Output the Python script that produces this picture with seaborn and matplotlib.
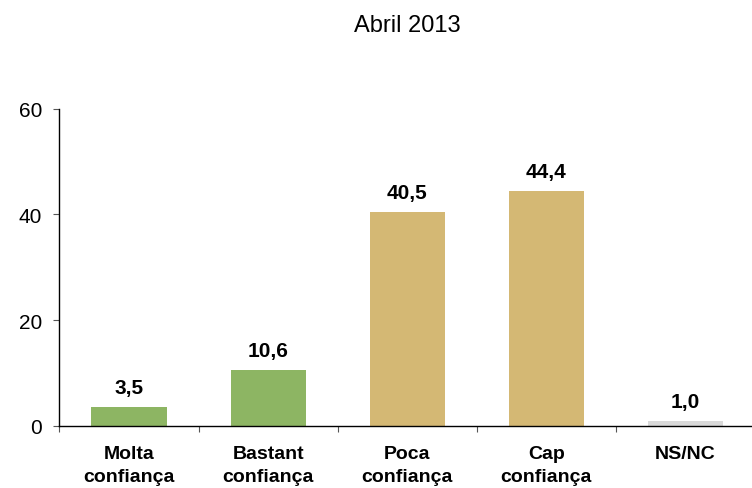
import matplotlib
matplotlib.use("Agg")
import matplotlib.pyplot as plt
import seaborn as sns
import pandas as pd
import numpy as np

categories = ["Molta\nconfiança", "Bastant\nconfiança", "Poca\nconfiança", "Cap\nconfiança", "NS/NC"]
values = [3.5, 10.6, 40.5, 44.4, 1.0]
labels = ["3,5", "10,6", "40,5", "44,4", "1,0"]
colors = ["#8DB563", "#8DB563", "#D4B874", "#D4B874", "#D9D9D9"]
title = "Abril 2013"
yticks = [0, 20, 40, 60]

sns.set_theme(style="white")
plt.rcParams["font.family"] = ["Liberation Sans", "DejaVu Sans"]
plt.rcParams["text.color"] = "black"
plt.rcParams["xtick.color"] = "black"
plt.rcParams["ytick.color"] = "black"
plt.rcParams["xtick.labelcolor"] = "black"
plt.rcParams["ytick.labelcolor"] = "black"

df = pd.DataFrame({"cat": categories, "val": values})

fig = plt.figure(figsize=(7.52, 4.89), dpi=100)
ax = fig.add_axes([0.079, 0.127, 0.925, 0.649])
sns.barplot(data=df, x="cat", y="val", hue="cat", palette=colors, legend=False,
            width=0.54, saturation=1, ax=ax, edgecolor="none")

ax.set_ylim(0, 60)
ax.set_xlim(-0.5, 4.5)
ax.set_yticks(yticks)
ax.set_xlabel("")
ax.set_ylabel("")
for s in ["top", "right"]:
    ax.spines[s].set_visible(False)
for s in ["left", "bottom"]:
    ax.spines[s].set_color("black")
    ax.spines[s].set_linewidth(1.0)

ax.tick_params(axis="y", which="major", left=True, length=4.5, width=0.8, color="#555555",
               labelsize=15, pad=8, labelcolor="black")
ax.tick_params(axis="x", which="major", bottom=False, length=0, labelsize=14, pad=14,
               labelcolor="black")
ax.set_xticks(np.arange(-0.5, 5.0, 1.0), minor=True)
ax.tick_params(axis="x", which="minor", bottom=True, length=4.5, width=0.8, color="#555555")
for t in ax.get_xticklabels():
    t.set_fontweight("bold")
    t.set_linespacing(1.42)

for i, (v, lab) in enumerate(zip(values, labels)):
    ax.annotate(lab, (i, v), xytext=(0, 10), textcoords="offset points",
                ha="center", va="baseline", fontsize=15, fontweight="bold", color="black")

ax.set_title(title, fontsize=17, pad=56, color="black")

fig.savefig("out.png", dpi=100)
